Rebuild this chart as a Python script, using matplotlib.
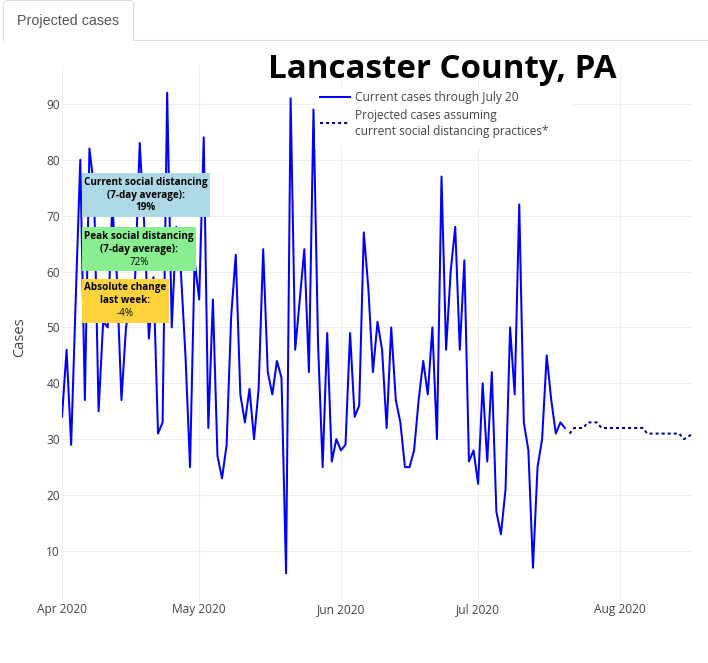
import matplotlib
matplotlib.use("Agg")
import matplotlib.pyplot as plt
import numpy as np
import pandas as pd
from matplotlib.patches import Rectangle
from matplotlib.lines import Line2D

# ---------------- data ----------------
actual_start = "2020-04-01"
actual_cases = [34, 46, 29, 55, 80, 37, 82, 75, 35, 51, 50, 72, 59, 37, 50, 55, 59, 83, 68, 48,
                59, 31, 33, 92, 50, 68, 60, 45, 25, 62,                          # April
                55, 84, 32, 55, 27, 23, 29, 52, 63, 38, 33, 39, 30, 39, 64, 42, 38, 44, 41, 6,
                91, 46, 55, 64, 42, 89, 47, 25, 49, 26, 30,                      # May
                28, 29, 49, 34, 36, 67, 57, 42, 51, 46, 32, 50, 37, 33, 25, 25, 28, 37, 44, 38,
                50, 30, 77, 46, 60, 68, 46, 62, 26, 28,                          # June
                22, 40, 26, 42, 17, 13, 21, 50, 38, 72, 33, 28, 7, 25, 30, 45, 37, 31, 33, 32]  # July 1-20
projected_start = "2020-07-21"
projected_cases = [31, 32, 32, 32, 33, 33, 33, 32, 32, 32, 32, 32, 32, 32, 32, 32, 32,
                   31, 31, 31, 31, 31, 31, 31, 31, 30, 30.5, 31]
tick_dates = ["2020-04-01", "2020-05-01", "2020-06-01", "2020-07-01", "2020-08-01"]
tick_labels = ["Apr 2020", "May 2020", "Jun 2020", "Jul 2020", "Aug 2020"]
y_ticks = [10, 20, 30, 40, 50, 60, 70, 80, 90]

title = "Lancaster County, PA"
legend_labels = ["Current cases through July 20",
                 ["Projected cases assuming", "current social distancing practices*"]]
box_lines = [
    [("Current social distancing", "bold"), ("(7-day average):", "bold"), ("19%", "bold")],
    [("Peak social distancing", "bold"), ("(7-day average):", "bold"), ("72%", "normal")],
    [("Absolute change", "bold"), ("last week:", "bold"), ("-4%", "normal")],
]
box_colors = ["#add8e6", "#88ee90", "#ffd43b"]

# ---------------- figure ----------------
W, H = 708, 663
fig = plt.figure(figsize=(W / 100, H / 100), dpi=100)
renderer = fig.canvas.get_renderer()
FONT = "Open Sans"
GREY = "#444444"


def fx(x):
    return x / W


def fy(y):
    return 1 - y / H


def fit_width(t, target):
    w = t.get_window_extent(renderer).width
    t.set_fontsize(t.get_fontsize() * target / w)
    return t.get_fontsize()


def measure_size(s, target, **kw):
    t = fig.text(0, 0, s, fontsize=10, **kw)
    size = fit_width(t, target)
    t.remove()
    return size


# axes
L, R, T, B = 62, 693, 66, 600
ax = fig.add_axes([fx(L), fy(B), (R - L) / W, (B - T) / H])
for s in ax.spines.values():
    s.set_visible(False)

dates_a = pd.date_range(actual_start, periods=len(actual_cases), freq="D")
dates_p = pd.date_range(projected_start, periods=len(projected_cases), freq="D")

ax.plot(dates_a, actual_cases, color="#0000ff", lw=1.45, zorder=3)
ax.plot(dates_p, projected_cases, color="#00008b", lw=1.45, linestyle=(0, (1.5, 1.5)), zorder=3)

allv = list(actual_cases) + list(projected_cases)
lo, hi = min(allv), max(allv)
pad = 0.05 * (hi - lo) / 0.9
ax.set_ylim(lo - pad, hi + pad)
ax.set_xlim(dates_a[0], dates_p[-1])

tick_fs = measure_size("Apr 2020", 50, family=FONT)
ax.set_xticks(pd.to_datetime(tick_dates))
ax.set_xticklabels(tick_labels)
ax.set_yticks(y_ticks)
ax.grid(True, color="#eeeeee", lw=0.75)
ax.set_axisbelow(True)
ax.tick_params(length=0, labelsize=tick_fs, labelcolor=GREY)
ax.tick_params(axis="y", pad=1.5)
ax.tick_params(axis="x", pad=2.5)
for lab in ax.get_xticklabels() + ax.get_yticklabels():
    lab.set_family(FONT)

# y label
fig.text(fx(20), fy(337), "Cases", rotation=90, ha="center", va="center",
         fontsize=10.5, color=GREY, family=FONT)

# tab
r = 4
ang = np.linspace(np.pi, np.pi / 2, 8)
xl = list(3.5 + r + r * np.cos(ang))
yl = list(0.5 + r - r * np.sin(ang))
ang2 = np.linspace(np.pi / 2, 0, 8)
xr = list(133.5 - r + r * np.cos(ang2))
yr = list(0.5 + r - r * np.sin(ang2))
tx = [3.5] + xl + xr + [133.5, W]
ty = [40.5] + yl + yr + [40.5, 40.5]
fig.add_artist(Line2D([fx(v) for v in tx], [fy(v) for v in ty], color="#dddddd", lw=0.8))
t_tab = fig.text(fx(68.5), fy(20.5), "Projected cases", ha="center", va="center",
                 fontsize=10, color="#555555", family="Liberation Sans")
fit_width(t_tab, 102)

# title
t_title = fig.text(fx(442.5), fy(78), title, ha="center", va="baseline",
                   fontsize=28, fontweight="bold", color="black", family=FONT)
fit_width(t_title, 349)

# legend
fig.add_artist(Rectangle((fx(315), fy(147)), (573 - 315) / W, (147 - 88) / H,
                         facecolor="white", edgecolor="none", zorder=4))
fig.add_artist(Line2D([fx(320), fx(350)], [fy(97), fy(97)], color="#0000ff", lw=1.45, zorder=5))
fig.add_artist(Line2D([fx(320), fx(350)], [fy(122.5), fy(122.5)], color="#00008b", lw=1.45,
                      linestyle=(0, (1.5, 1.5)), zorder=5))
leg_fs = measure_size(legend_labels[1][1], 195, family=FONT)
fig.text(fx(355), fy(97), legend_labels[0], ha="left", va="center", fontsize=leg_fs,
         color=GREY, family=FONT, zorder=6)
fig.text(fx(355), fy(116), legend_labels[1][0], ha="left", va="center", fontsize=leg_fs,
         color=GREY, family=FONT, zorder=6)
fig.text(fx(355), fy(131.5), legend_labels[1][1], ha="left", va="center", fontsize=leg_fs,
         color=GREY, family=FONT, zorder=6)

# annotation boxes
boxes = [(81.7, 210, 173.3, 216.7), (81.7, 196, 227.3, 271), (81.7, 169.3, 279, 322.7)]
ann_fs = measure_size(box_lines[0][0][0], 123, family=FONT, fontweight="bold")
for (x0, x1, y0, y1), col, lines in zip(boxes, box_colors, box_lines):
    fig.add_artist(Rectangle((fx(x0), fy(y1)), (x1 - x0) / W, (y1 - y0) / H,
                             facecolor=col, edgecolor="none", zorder=4))
    cx = (x0 + x1) / 2
    cy = (y0 + y1) / 2
    for i, (s, wt) in enumerate(lines):
        fig.text(fx(cx), fy(cy + (i - 1) * 13), s, ha="center", va="center",
                 fontsize=ann_fs, fontweight=wt, color="black", family=FONT, zorder=6)

fig.savefig("out.png", dpi=100)
